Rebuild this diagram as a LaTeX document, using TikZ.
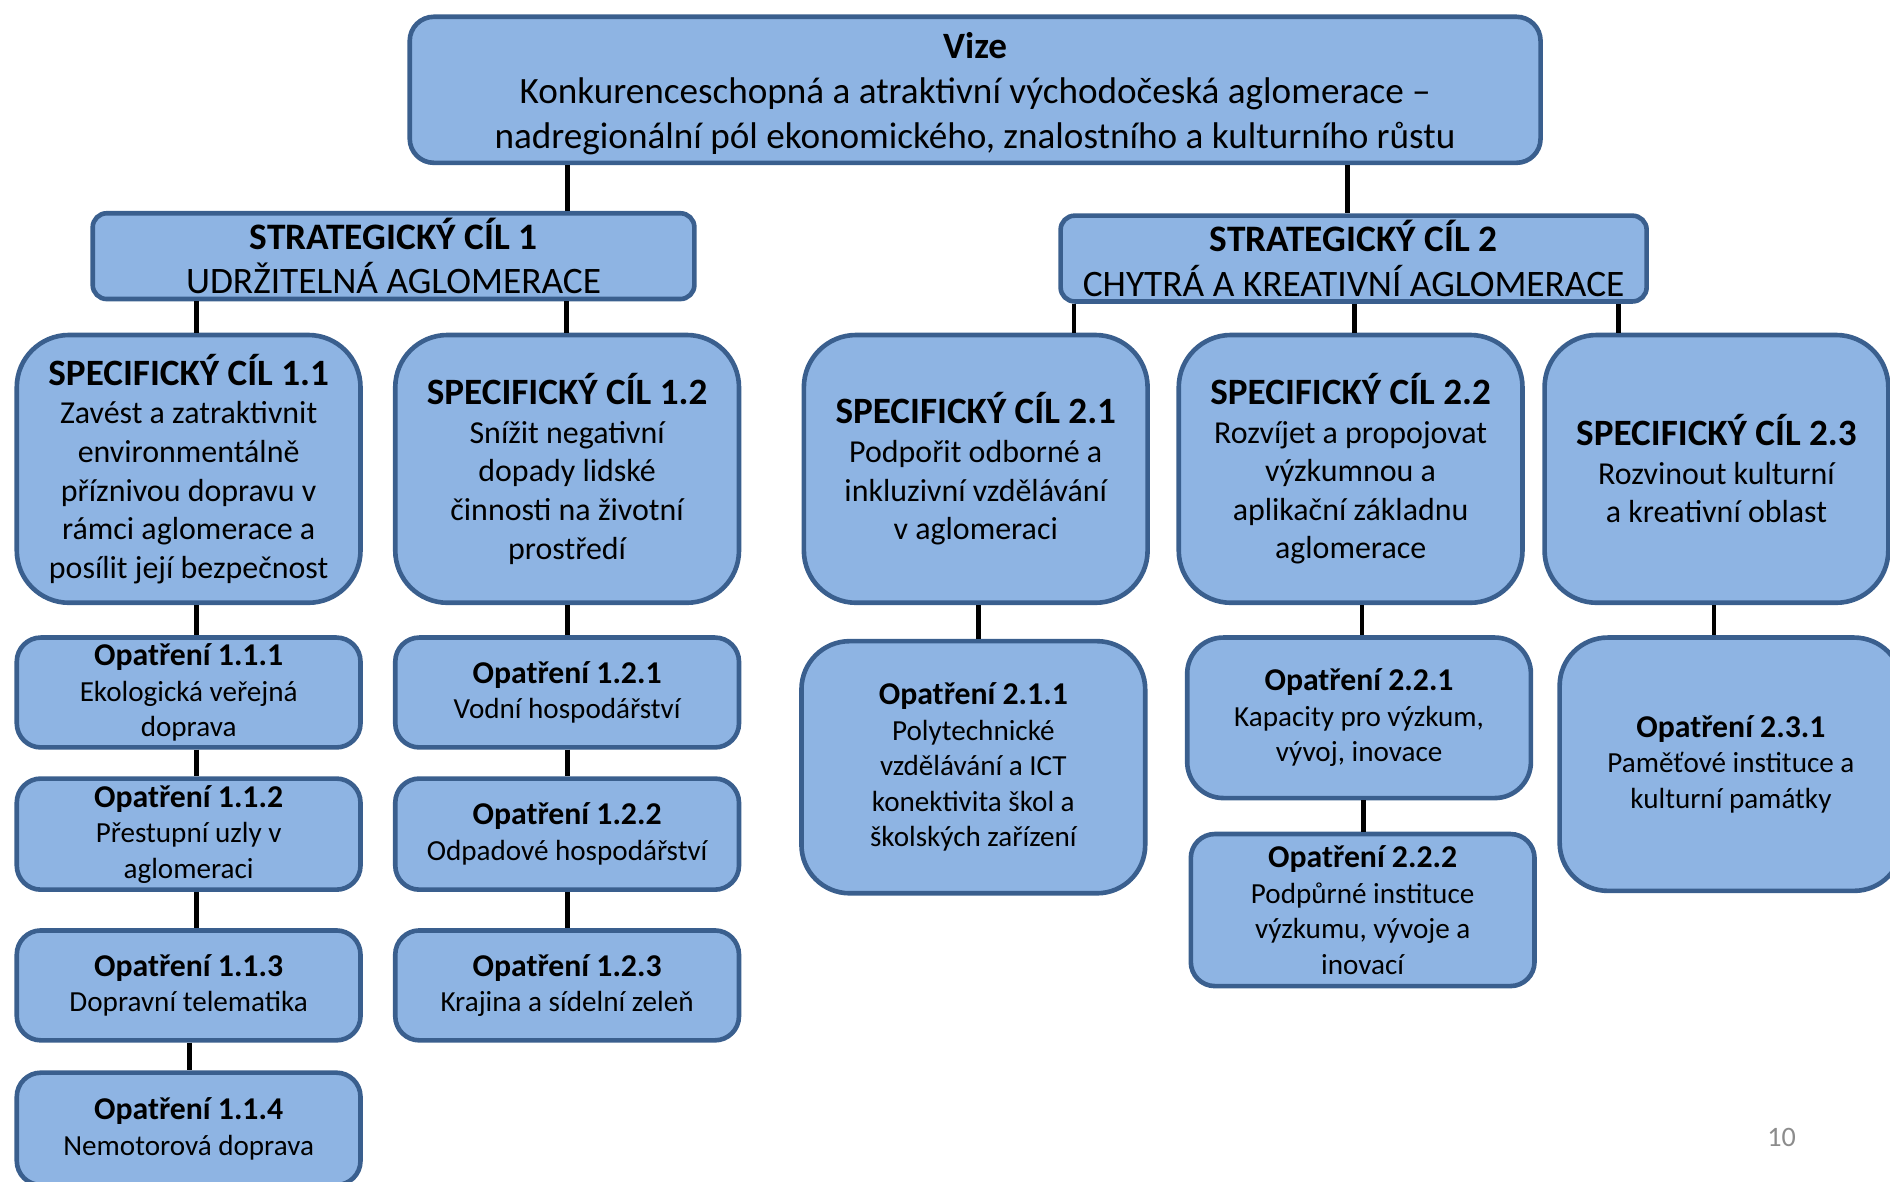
\documentclass[tikz,border=0pt]{standalone}
\usepackage{fontspec}
\setmainfont{Carlito}
\definecolor{boxfill}{HTML}{8EB4E3}
\definecolor{boxline}{HTML}{3A5F8E}
\definecolor{pgray}{HTML}{8C8C8C}
\newcommand\optitle[1]{{\fontsize{15.8}{17.7}\selectfont\bfseries #1}}
\newcommand\sptitle[1]{{\fontsize{18.5}{20.4}\selectfont\bfseries #1}}
\begin{document}
\begin{tikzpicture}[x=0.6pt,y=-0.6pt,
  base/.style={draw=boxline, fill=boxfill, line width=2.3pt, align=center, inner sep=0pt, text=black},
  wh/.style 2 args={minimum width=#1*0.6pt-2.3pt, minimum height=#2*0.6pt-2.3pt},
  vizebox/.style={base, rounded corners=12pt, font=\fontsize{18.5}{22.5}\selectfont},
  scbox/.style={base, rounded corners=7pt, font=\fontsize{18.6}{22.2}\selectfont},
  specbox/.style={base, rounded corners=26pt, font=\fontsize{15.9}{19.2}\selectfont},
  opbox/.style={base, rounded corners=12pt, font=\fontsize{14.5}{17.7}\selectfont},
  opbigbox/.style={base, rounded corners=24pt, font=\fontsize{14.5}{17.7}\selectfont},
  conn/.style={draw=black, line width=2.4pt}
]
\useasboundingbox (0,0) rectangle (1568,980);

\node[vizebox, wh={942}{125}] (vize) at (809,74.5)
  {\rule{0pt}{17pt}\textbf{Vize}\\Konkurenceschopná a atraktivní východočeská aglomerace –\\nadregionální pól ekonomického, znalostního a kulturního růstu};

\node[scbox, wh={503}{75}] (sc1) at (326.5,212.5) {\textbf{STRATEGICKÝ CÍL 1}\\UDRŽITELNÁ AGLOMERACE};
\node[scbox, wh={490}{75}] (sc2) at (1123,214.5) {\textbf{STRATEGICKÝ CÍL 2}\\CHYTRÁ A KREATIVNÍ AGLOMERACE};

\node[specbox, wh={289}{226}] (s11) at (156.5,389) {\sptitle{SPECIFICKÝ CÍL 1.1}\\Zavést a zatraktivnit\\environmentálně\\příznivou dopravu v\\rámci aglomerace a\\posílit její bezpečnost};
\node[specbox, wh={289}{226}] (s12) at (470.5,389) {\sptitle{SPECIFICKÝ CÍL 1.2}\\Snížit negativní\\dopady lidské\\činnosti na životní\\prostředí};
\node[specbox, wh={289}{226}] (s21) at (809.5,389) {\sptitle{SPECIFICKÝ CÍL 2.1}\\Podpořit odborné a\\inkluzivní vzdělávání\\v aglomeraci};
\node[specbox, wh={289}{226}] (s22) at (1120.5,389) {\sptitle{SPECIFICKÝ CÍL 2.2}\\Rozvíjet a propojovat\\výzkumnou a\\aplikační základnu\\aglomerace};
\node[specbox, wh={289}{226}] (s23) at (1424,389) {\sptitle{SPECIFICKÝ CÍL 2.3}\\Rozvinout kulturní\\a kreativní oblast};

\node[opbox, wh={289}{95}] (o111) at (156.5,574.5) {\optitle{Opatření 1.1.1}\\Ekologická veřejná\\doprava};
\node[opbox, wh={289}{96}] (o112) at (156.5,692) {\optitle{Opatření 1.1.2}\\Přestupní uzly v\\aglomeraci};
\node[opbox, wh={289}{95}] (o113) at (156.5,817.5) {\optitle{Opatření 1.1.3}\\Dopravní telematika};
\node[opbox, wh={289}{97}] (o114) at (156.5,936.5) {\optitle{Opatření 1.1.4}\\Nemotorová doprava};

\node[opbox, wh={289}{95}] (o121) at (470.5,574.5) {\optitle{Opatření 1.2.1}\\Vodní hospodářství};
\node[opbox, wh={289}{96}] (o122) at (470.5,692) {\optitle{Opatření 1.2.2}\\Odpadové hospodářství};
\node[opbox, wh={289}{95}] (o123) at (470.5,817.5) {\optitle{Opatření 1.2.3}\\Krajina a sídelní zeleň};

\node[opbigbox, wh={289}{213}] (o211) at (807.5,636.5) {\optitle{Opatření 2.1.1}\\Polytechnické\\vzdělávání a ICT\\konektivita škol a\\školských zařízení};
\node[opbigbox, rounded corners=18pt, wh={289}{137}] (o221) at (1127.5,595.5) {\optitle{Opatření 2.2.1}\\Kapacity pro výzkum,\\vývoj, inovace};
\node[opbox, wh={289}{130}] (o222) at (1130.5,755) {\optitle{Opatření 2.2.2}\\Podpůrné instituce\\výzkumu, vývoje a\\inovací};
\node[opbigbox, wh={288}{214}] (o231) at (1436,634) {\optitle{Opatření 2.3.1}\\Paměťové instituce a\\kulturní památky};

\node[text=pgray, font=\fontsize{14}{16}\selectfont] (pnum) at (1478,944) {10};

% connector x positions
\coordinate (xa) at (471,0);
\coordinate (xb) at (1118,0);
\coordinate (xc) at (163,0);
\coordinate (xd) at (470,0);
\coordinate (xe) at (891,0);
\coordinate (xf) at (1124,0);
\coordinate (xg) at (1343,0);
\coordinate (xh) at (157,0);
\coordinate (xi) at (471,0);
\coordinate (xj) at (812,0);
\coordinate (xk) at (1130,0);
\coordinate (xl) at (1131,0);
\coordinate (xm) at (1422,0);

\draw[conn] (vize.south -| xa) -- (sc1.north -| xa);
\draw[conn] (vize.south -| xb) -- (sc2.north -| xb);
\draw[conn] (sc1.south -| xc) -- (s11.north -| xc);
\draw[conn] (sc1.south -| xd) -- (s12.north -| xd);
\draw[conn] (sc2.south -| xe) -- (s21.north -| xe);
\draw[conn] (sc2.south -| xf) -- (s22.north -| xf);
\draw[conn] (sc2.south -| xg) -- (s23.north -| xg);
\draw[conn] (s11.south -| xc) -- (o111.north -| xc);
\draw[conn] (o111.south -| xc) -- (o112.north -| xc);
\draw[conn] (o112.south -| xc) -- (o113.north -| xc);
\draw[conn] (o113.south -| xh) -- (o114.north -| xh);
\draw[conn] (s12.south -| xi) -- (o121.north -| xi);
\draw[conn] (o121.south -| xi) -- (o122.north -| xi);
\draw[conn] (o122.south -| xi) -- (o123.north -| xi);
\draw[conn] (s21.south -| xj) -- (o211.north -| xj);
\draw[conn] (s22.south -| xk) -- (o221.north -| xk);
\draw[conn] (o221.south -| xl) -- (o222.north -| xl);
\draw[conn] (s23.south -| xm) -- (o231.north -| xm);
\end{tikzpicture}
\end{document}
